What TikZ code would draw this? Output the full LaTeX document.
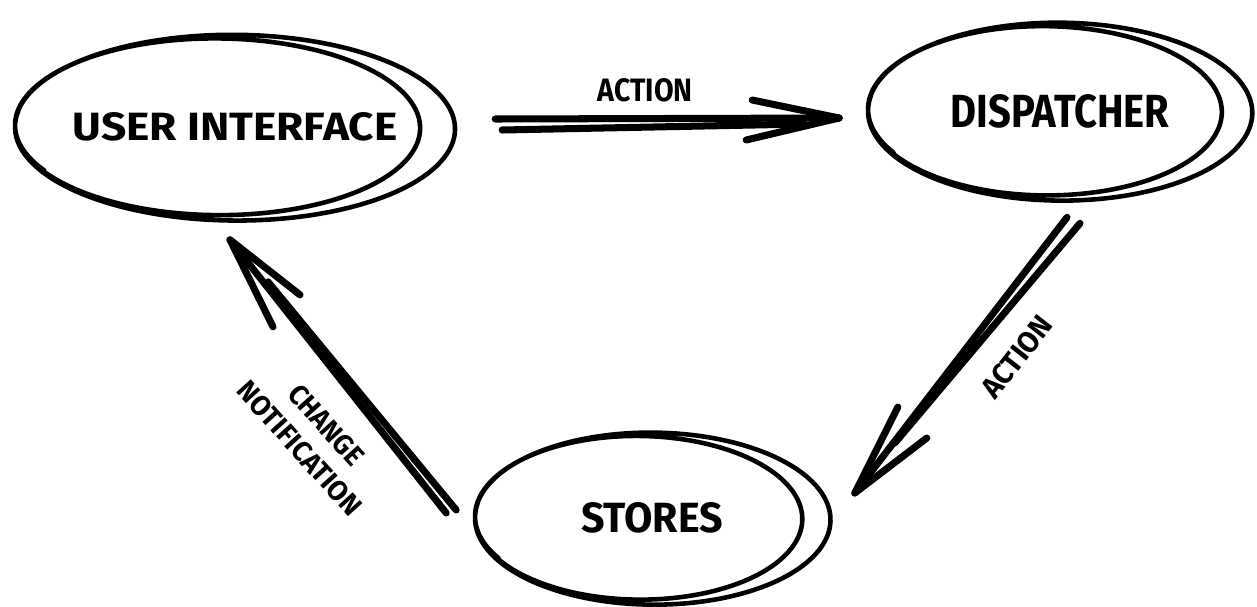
\documentclass[tikz,border=0pt]{standalone}
\usepackage{fontspec}
\setsansfont{Fira Sans}
\usetikzlibrary{calc,shapes.geometric}
\newcommand\sketchtext[3]{\resizebox{#1}{#2}{\sffamily\bfseries #3}}
\newcommand\sketchloop[5]{%
  \begin{scope}[shift={($(#1.center)+(#2,#3)$)}, xscale=#4, yscale=#5]
    \draw[sketch] plot[domain=190:-572, samples=200, smooth, variable=\t]
      ({-0.16*(186-\t)/756 + (1-0.16*(186-\t)/756)*cos(\t)},
       {-0.02*(186-\t)/756 + (1-0.1*(186-\t)/756)*sin(\t)});
  \end{scope}}
\tikzset{
  sketch/.style={line width=2.6pt, line cap=round, line join=round, black},
  arr/.style={line width=4pt, line cap=round, line join=round, black},
  blob/.style={ellipse, inner sep=0pt, draw=none},
  lbl/.style={inner sep=0pt, align=center}
}
\begin{document}
\begin{tikzpicture}[x=0.02cm, y=-0.02cm]
\useasboundingbox (0,0) rectangle (1257,606);
% nodes
\node[blob, minimum width=8.8cm, minimum height=3.7cm] (ui) at (235,127)
  {\sketchtext{6.5cm}{0.56cm}{USER INTERFACE}};
\node[blob, minimum width=7.7cm, minimum height=3.56cm] (disp) at (1060,111)
  {\sketchtext{4.38cm}{0.66cm}{DISPATCHER}};
\node[blob, minimum width=7.1cm, minimum height=3.4cm] (stores) at (652,518)
  {\sketchtext{2.84cm}{0.6cm}{STORES}};
% sketchy outlines
\sketchloop{ui}{9}{0}{229}{95}
\sketchloop{disp}{8}{0}{200}{91}
\sketchloop{stores}{8}{0}{185}{88}
% arrow UI -> Dispatcher
\draw[arr] ($(ui.east)+(30,-8)$) -- ($(disp.west)+(-28,7)$);
\draw[arr] ($(ui.east)+(37,3)$) -- ($(disp.west)+(-63,13)$);
\draw[arr] ($(disp.west)+(-115,-11)$) -- ($(disp.west)+(-28,7)$) -- ($(disp.west)+(-121,29)$);
\node[lbl] (l1) at ($(ui.east)!0.5!(disp.west)+(-21,-29)$) {\sketchtext{1.9cm}{0.46cm}{ACTION}};
% arrow Dispatcher -> Stores
\draw[arr] ($(disp.south)+(7,17)$) -- ($(stores.east)+(25,-25)$);
\draw[arr] ($(disp.south)+(20,23)$) -- ($(stores.east)+(65,-75)$);
\draw[arr] ($(stores.east)+(68,-111)$) -- ($(stores.east)+(25,-25)$) -- ($(stores.east)+(97,-80)$);
\node[lbl, rotate=52] (l2) at ($(stores.east)+(187,-161)$) {\sketchtext{1.9cm}{0.42cm}{ACTION}};
% arrow Stores -> UI
\draw[arr] ($(stores.west)+(-28,-5)$) -- ($(ui.south)+(-5,20)$);
\draw[arr] ($(stores.west)+(-18,-8)$) -- ($(ui.south)+(33,62)$);
\draw[arr] ($(ui.south)+(65,75)$) -- ($(ui.south)+(-5,20)$) -- ($(ui.south)+(38,107)$);
\node[lbl, rotate=-48] (l3) at ($(ui.south)+(78,217)$)
  {\sketchtext{1.96cm}{0.4cm}{CHANGE}\\[8pt]\sketchtext{3.4cm}{0.4cm}{NOTIFICATION}};
\end{tikzpicture}
\end{document}
